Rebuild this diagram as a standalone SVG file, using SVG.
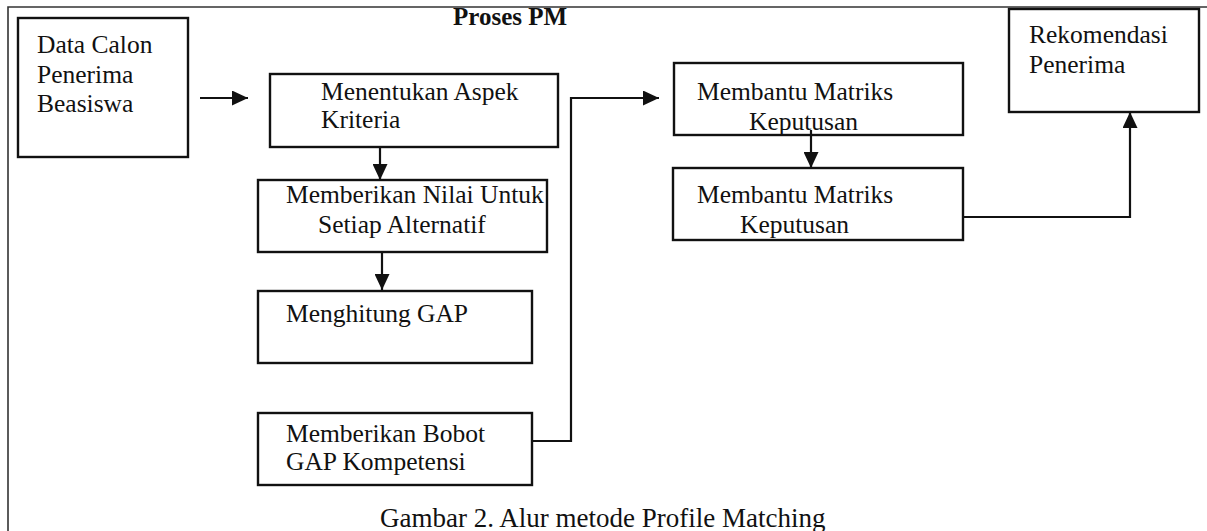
<svg xmlns="http://www.w3.org/2000/svg" width="1207" height="531" viewBox="0 0 1207 531">
<style>
.box{fill:#fff;stroke:#111;stroke-width:2.4}
.t{font-family:"Liberation Serif","Times New Roman",serif;font-size:25.5px;fill:#111}
.title{font-family:"Liberation Serif","Times New Roman",serif;font-size:25px;font-weight:bold;fill:#111}
.cap{font-family:"Liberation Serif","Times New Roman",serif;font-size:27px;fill:#111}
.con{fill:none;stroke:#111;stroke-width:2.2}
.frame{fill:none;stroke:#333;stroke-width:1.6}
</style>
<defs>
<marker id="ah" markerUnits="userSpaceOnUse" markerWidth="17" markerHeight="15" refX="16" refY="7.5" orient="auto">
<path d="M0,0 L16,7.5 L0,15 Z" fill="#111"/>
</marker>
</defs>
<rect width="1207" height="531" fill="#fff"/>
<path class="frame" d="M8,531 V7 H1207"/>
<text class="title" x="453" y="25">Proses PM</text>
<g id="data">
<rect class="box" x="18" y="18" width="170" height="139"/>
<text class="t" x="37" y="53">Data Calon</text>
<text class="t" x="37" y="83">Penerima</text>
<text class="t" x="37" y="112">Beasiswa</text>
</g>
<g id="aspek">
<rect class="box" x="270" y="74" width="288" height="73"/>
<text class="t" x="321" y="100">Menentukan Aspek</text>
<text class="t" x="321" y="128">Kriteria</text>
</g>
<g id="nilai">
<rect class="box" x="258" y="180" width="289" height="72"/>
<text class="t" x="286" y="203">Memberikan Nilai Untuk</text>
<text class="t" x="318" y="233">Setiap Alternatif</text>
</g>
<g id="gap">
<rect class="box" x="258" y="291" width="274" height="72"/>
<text class="t" x="286" y="322">Menghitung GAP</text>
</g>
<g id="bobot">
<rect class="box" x="258" y="413" width="274" height="72"/>
<text class="t" x="286" y="442">Memberikan Bobot</text>
<text class="t" x="286" y="470">GAP Kompetensi</text>
</g>
<g id="matriks1">
<rect class="box" x="674" y="63" width="289" height="72"/>
<text class="t" x="697" y="100">Membantu Matriks</text>
<text class="t" x="749" y="130">Keputusan</text>
</g>
<g id="matriks2">
<rect class="box" x="673" y="168" width="290" height="72"/>
<text class="t" x="697" y="203">Membantu Matriks</text>
<text class="t" x="740" y="233">Keputusan</text>
</g>
<g id="rekomendasi">
<rect class="box" x="1009" y="9" width="190" height="103"/>
<text class="t" x="1029" y="43">Rekomendasi</text>
<text class="t" x="1029" y="73">Penerima</text>
</g>
<g id="connectors">
<path class="con" d="M200,98 H248" marker-end="url(#ah)"/>
<path class="con" d="M380,147 V180" marker-end="url(#ah)"/>
<path class="con" d="M382,252 V290" marker-end="url(#ah)"/>
<path class="con" d="M532,441 H571 V98 H659" marker-end="url(#ah)"/>
<path class="con" d="M811,130 V168" marker-end="url(#ah)"/>
<path class="con" d="M963,217 H1130 V112" marker-end="url(#ah)"/>
</g>
<text class="cap" x="380" y="527">Gambar 2. Alur metode Profile Matching</text>
</svg>
